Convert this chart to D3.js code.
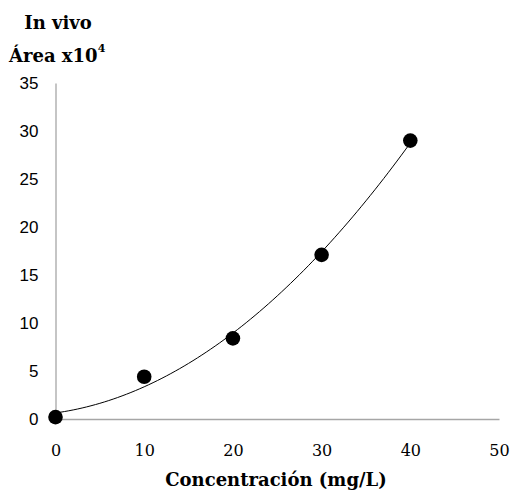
<!DOCTYPE html>
<html><head><meta charset="utf-8">
<script src="https://cdn.jsdelivr.net/npm/d3@7"></script>
<style>body{margin:0;background:#fff}svg{display:block}</style>
</head><body>
<script>
const concentrations = [0, 10, 20, 30, 40];
const areas = [0.2, 4.4, 8.4, 17.1, 29.0];
const xTicks = [0, 10, 20, 30, 40, 50];
const yTicks = [0, 5, 10, 15, 20, 25, 30, 35];

const W = 512, H = 495;
const svg = d3.select("body").append("svg").attr("width", W).attr("height", H);
const x = d3.scaleLinear().domain([0, 50]).range([55.5, 499]);
const y = d3.scaleLinear().domain([0, 35]).range([419, 83]);
const serif = "'DejaVu Serif', serif";
const sans = "'Liberation Sans', Arial, sans-serif";

// quadratic least-squares trendline
function polyfit2(xs, ys) {
  let S = [0,0,0,0,0], T = [0,0,0];
  xs.forEach((xi, i) => {
    for (let k = 0; k < 5; k++) S[k] += Math.pow(xi, k);
    for (let k = 0; k < 3; k++) T[k] += Math.pow(xi, k) * ys[i];
  });
  const M = [[S[0],S[1],S[2],T[0]],[S[1],S[2],S[3],T[1]],[S[2],S[3],S[4],T[2]]];
  for (let i = 0; i < 3; i++) {
    for (let j = i+1; j < 3; j++) {
      const f = M[j][i] / M[i][i];
      for (let k = i; k < 4; k++) M[j][k] -= f * M[i][k];
    }
  }
  const c = [0,0,0];
  for (let i = 2; i >= 0; i--) {
    let s = M[i][3];
    for (let k = i+1; k < 3; k++) s -= M[i][k] * c[k];
    c[i] = s / M[i][i];
  }
  return c;
}
const coef = polyfit2(concentrations, areas);
const fitX = d3.range(0, 40.01, 0.5);

// axes
const yAxis = d3.axisLeft(y).tickValues(yTicks).tickSize(0).tickPadding(17);
const gy = svg.append("g").attr("transform", `translate(${x(0)},0)`).call(yAxis);
gy.select(".domain").attr("stroke", "#a6a6a6").attr("stroke-width", 1.3);
gy.selectAll("text").attr("font-family", sans).attr("font-size", 17).attr("fill", "#000");

const xAxis = d3.axisBottom(x).tickValues(xTicks).tickSize(0).tickPadding(26);
const gx = svg.append("g").attr("transform", `translate(0,${y(0)})`).call(xAxis);
gx.select(".domain").attr("stroke", "#a6a6a6").attr("stroke-width", 1.3);
gx.selectAll("text").attr("font-family", serif).attr("font-size", 16).attr("fill", "#000");

// trendline
svg.append("path")
  .datum(fitX)
  .attr("fill", "none").attr("stroke", "#000").attr("stroke-width", 1)
  .attr("d", d3.line().x(d => x(d)).y(d => y(coef[0] + coef[1]*d + coef[2]*d*d)));

// points
svg.selectAll("circle.pt").data(concentrations).join("circle")
  .attr("class", "pt")
  .attr("cx", (d) => x(d)).attr("cy", (d, i) => y(areas[i])).attr("r", 7.3).attr("fill", "#000");

// titles
svg.append("text").attr("x", 58).attr("y", 29).attr("text-anchor", "middle")
  .attr("font-family", serif).attr("font-weight", "bold").attr("font-size", 18).text("In vivo");
const t2 = svg.append("text").attr("x", 9).attr("y", 62)
  .attr("font-family", serif).attr("font-weight", "bold").attr("font-size", 18);
t2.append("tspan").text("Área x10");
t2.append("tspan").attr("dy", -10).attr("font-size", 11).text("4");

svg.append("text").attr("x", 276).attr("y", 486).attr("text-anchor", "middle")
  .attr("font-family", serif).attr("font-weight", "bold").attr("font-size", 18).text("Concentración (mg/L)");
</script>
</body></html>
